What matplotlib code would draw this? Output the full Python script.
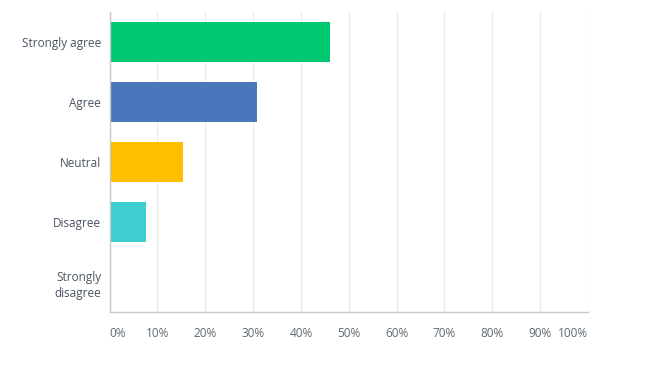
import matplotlib
matplotlib.use("Agg")
import matplotlib.pyplot as plt

categories = ["Strongly agree", "Agree", "Neutral", "Disagree", "Strongly\ndisagree"]
values = [46.15, 30.77, 15.38, 7.69, 0.0]
colors = ["#00c972", "#4a77bb", "#ffbf00", "#3ecdd0", "#9d8ac7"]
tick_vals = [0, 10, 20, 30, 40, 50, 60, 70, 80, 90, 100]
tick_labels = [f"{v}%" for v in tick_vals]

plt.rcParams['font.family'] = ['Open Sans', 'DejaVu Sans']
W, H = 654, 373
fig = plt.figure(figsize=(W / 100, H / 100), dpi=100)
x0, x1 = 109.5, 588
y_top, y_bot = 12, 312
ax = fig.add_axes([x0 / W, 1 - y_bot / H, (x1 - x0) / W, (y_bot - y_top) / H])

pos = list(range(len(categories)))
ax.barh(pos, values, height=0.667, color=colors, zorder=3)
ax.set_ylim(len(categories) - 0.5, -0.5)
ax.set_xlim(0, 100)
ax.set_yticks(pos)
ax.set_yticklabels(categories, fontsize=8.5, color="#4a5461", linespacing=1.3)
ax.set_xticks(tick_vals)
ax.set_xticklabels(tick_labels, fontsize=8.5, color="#5f6872")
labs = ax.get_xticklabels()
labs[0].set_horizontalalignment("left")
labs[-1].set_horizontalalignment("right")
ax.tick_params(axis="both", length=0)
ax.tick_params(axis="x", pad=10.5)
ax.tick_params(axis="y", pad=6)
ax.grid(axis="x", color="#ebebeb", linewidth=1, zorder=0)
for s in ["top", "right"]:
    ax.spines[s].set_visible(False)
for s in ["left", "bottom"]:
    ax.spines[s].set_color("#c8c8c8")
    ax.spines[s].set_linewidth(1)
    ax.spines[s].set_zorder(4)

fig.savefig("out.png", dpi=100)
